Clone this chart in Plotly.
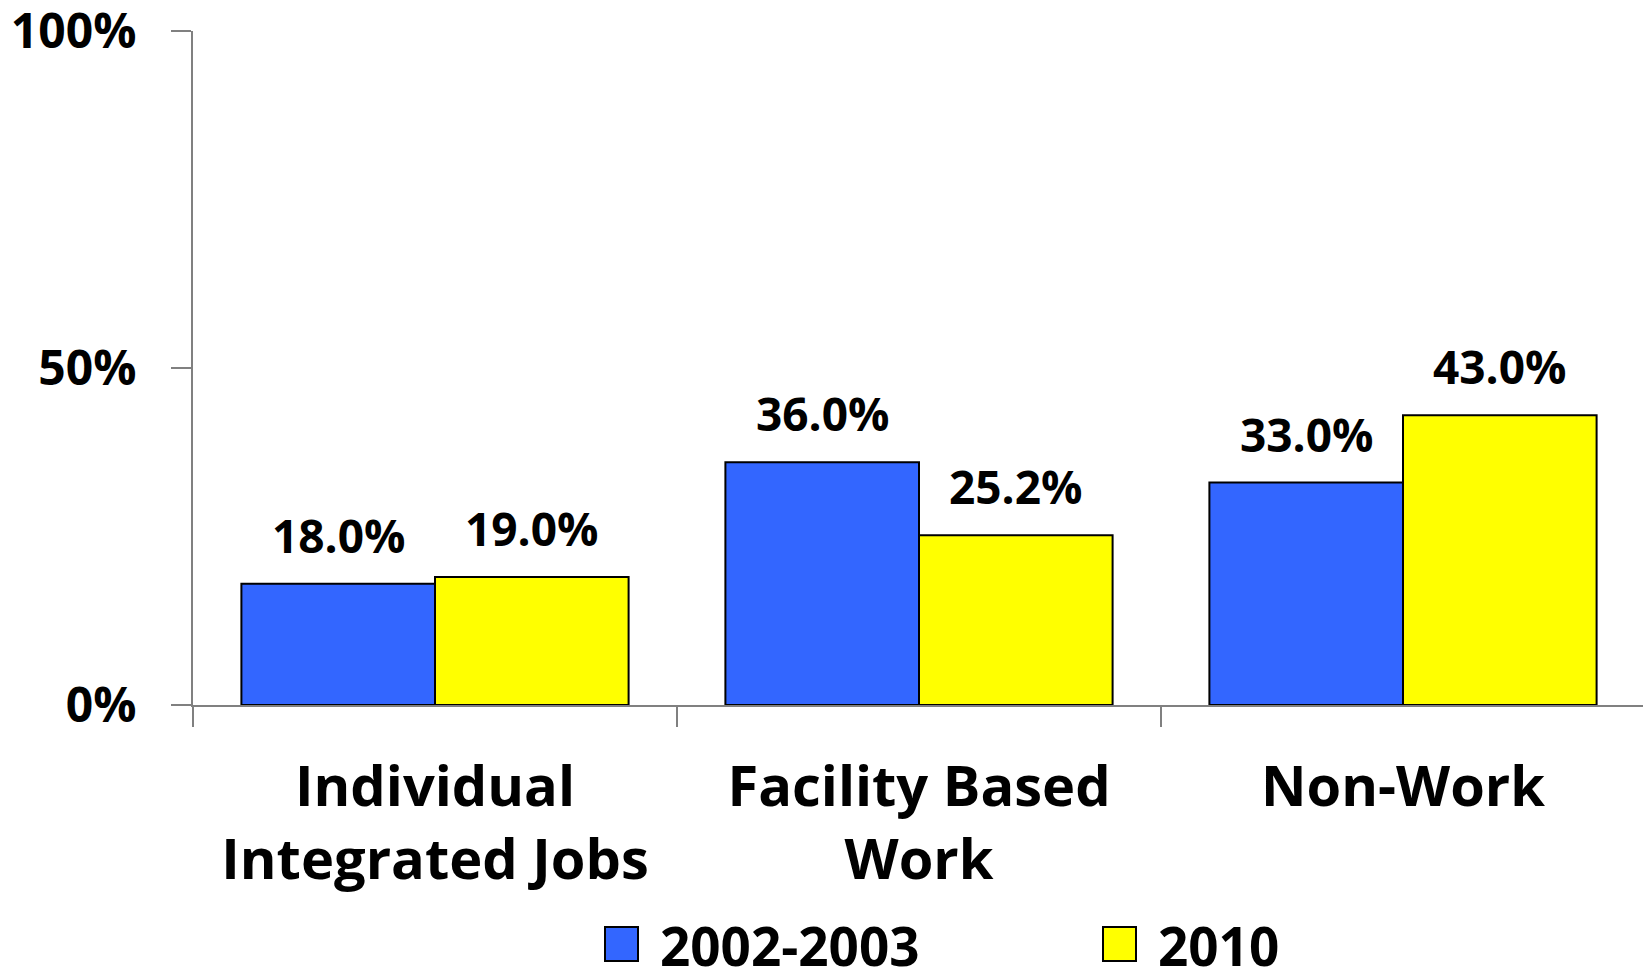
import plotly.graph_objects as go

categories = ["Individual<br>Integrated Jobs", "Facility Based<br>Work", "Non-Work"]
series_names = ["2002-2003", "2010"]
values_2002 = [18.0, 36.0, 33.0]
values_2010 = [19.0, 25.2, 43.0]
y_ticks = [0, 50, 100]
y_tick_labels = ["0%", "50%", "100%"]
colors = ["#3366FF", "#FFFF00"]

# page body has an 8px margin, so the figure is drawn 8px smaller
W, H = 1643, 963
L, R, T, B = 185, 6, 23, 266
plot_w = W - L - R
plot_h = H - T - B

FONT = "Open Sans"

fig = go.Figure()
series_vals = [values_2002, values_2010]
for name, vals, col in zip(series_names, series_vals, colors):
    fig.add_trace(go.Bar(
        x=categories, y=vals, name=name,
        marker=dict(color=col, line=dict(color="#000000", width=2)),
        showlegend=False,
    ))

# data labels
group_w = plot_w / len(categories)
bar_w = group_w * 0.8 / 2
for i, vals in enumerate(series_vals):
    off = (i - 0.5) * bar_w
    for c, v in zip(categories, vals):
        fig.add_annotation(
            x=c, y=v, xref="x", yref="y", text=f"{v:.1f}%",
            showarrow=False, xanchor="center", yanchor="bottom",
            xshift=off, yshift=16,
            font=dict(family=FONT, size=46, color="#000000", weight="bold"),
        )

# manual legend (pixel positions within the figure)
leg_box_y = 936
leg_text_y = 937
leg_items = [(597, 650), (1095, 1148)]
for (bx, tx), name, col in zip(leg_items, series_names, colors):
    fig.add_shape(
        type="rect", xref="paper", yref="paper",
        x0=(bx - L) / plot_w, x1=(bx + 33 - L) / plot_w,
        y0=(H - B - (leg_box_y + 17)) / plot_h, y1=(H - B - (leg_box_y - 17)) / plot_h,
        fillcolor=col, line=dict(color="#000000", width=2),
    )
    fig.add_annotation(
        xref="paper", yref="paper", x=(tx - L) / plot_w,
        y=(H - B - leg_text_y) / plot_h, text=name, showarrow=False,
        xanchor="left", yanchor="middle",
        font=dict(family=FONT, size=53, color="#000000", weight="bold"),
    )

fig.update_layout(
    width=W, height=H,
    margin=dict(l=L, r=R, t=T, b=B, autoexpand=False),
    paper_bgcolor="white", plot_bgcolor="white",
    barmode="group", bargap=0.2, bargroupgap=0,
    showlegend=False,
)
fig.update_yaxes(
    range=[0, 100], tickvals=y_ticks, ticktext=y_tick_labels,
    showgrid=False, zeroline=False,
    showline=True, linecolor="#808080", linewidth=2,
    ticks="outside", ticklen=20, tickcolor="#808080", tickwidth=2,
    ticklabelstandoff=25, ticklabeloverflow="allow",
    tickfont=dict(family=FONT, size=48, color="#000000", weight="bold"),
)
fig.update_xaxes(
    showgrid=False, zeroline=False,
    showline=True, linecolor="#808080", linewidth=2,
    ticks="outside", ticklen=20, tickcolor="#808080", tickwidth=2,
    tickson="boundaries", ticklabelstandoff=32,
    tickfont=dict(family=FONT, size=56, color="#000000", weight="bold"),
)

fig.write_html("out.html")
